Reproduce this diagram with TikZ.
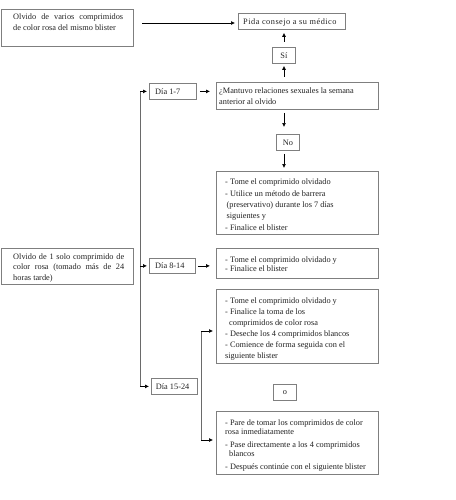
\documentclass[tikz,border=0pt]{standalone}
\usepackage{fontspec}
\setmainfont{Liberation Serif}
\usetikzlibrary{arrows.meta,calc}
\definecolor{bordc}{HTML}{7F7F7F}
\definecolor{txtc}{HTML}{222222}
\definecolor{linec}{HTML}{6A6A6A}
\begin{document}
\begin{tikzpicture}[x=1pt,y=-1pt,
  box/.style={draw=bordc, line width=0.8pt, inner sep=0pt, anchor=north west},
  txt/.style={inner sep=0pt, anchor=base west, text=txtc, font=\fontsize{8.3}{11}\selectfont},
  ctxt/.style={inner sep=0pt, anchor=center, text=txtc, font=\fontsize{8.3}{11}\selectfont},
  arr/.style={draw=black, line width=0.7pt, -{Latex[length=4pt,width=4pt]}},
  vline/.style={draw=linec, line width=0.8pt}]
\useasboundingbox[fill=white] (0,0) rectangle (455,500);
% boxes
\node[box, minimum width=132pt, minimum height=37pt] (b1) at (1,9) {};
\node[box, minimum width=107pt, minimum height=16pt] (pida) at (238,13) {};
\node[box, minimum width=23pt, minimum height=16pt] (si) at (272,47) {};
\node[box, minimum width=162pt, minimum height=27pt] (mant) at (216,82) {};
\node[box, minimum width=23pt, minimum height=16pt] (no) at (276,134) {};
\node[box, minimum width=162pt, minimum height=63pt] (r1) at (216,171) {};
\node[box, minimum width=162pt, minimum height=30pt] (r2) at (216,248) {};
\node[box, minimum width=162pt, minimum height=74pt] (r3) at (216,289) {};
\node[box, minimum width=23pt, minimum height=16pt] (o) at (273,384) {};
\node[box, minimum width=162pt, minimum height=63pt] (r4) at (216,411) {};
\node[box, minimum width=132pt, minimum height=36pt] (b2) at (1,248) {};
\node[box, minimum width=47pt, minimum height=16pt] (d1) at (149,83) {};
\node[box, minimum width=46pt, minimum height=15pt] (d2) at (149,258) {};
\node[box, minimum width=46pt, minimum height=16pt] (d3) at (151,378) {};
% texts
\node[txt] (b1t) at (13,20) {\parbox[t]{120pt}{\makebox[110pt][s]{Olvido de varios comprimidos}\\de color rosa del mismo blister}};
\node[txt] (pidat) at (243,24.5) {\addfontfeature{LetterSpace=6}Pida consejo a su médico};
\node[ctxt] (sit) at (si.center) {Sí};
\node[txt] (mantt) at (219,94) {\parbox[t]{160pt}{¿Mantuvo relaciones sexuales la semana\\anterior al olvido}};
\node[ctxt] (not) at (no.center) {No};
\node[txt, font=\fontsize{8.3}{11.4}\selectfont] (r1t) at (225,184.7) {\parbox[t]{150pt}{- Tome el comprimido olvidado\\- Utilice un método de barrera\\\hspace*{1.5pt}(preservativo) durante los 7 días\\\hspace*{1.5pt}siguientes y\\- Finalice el blister}};
\node[txt, font=\fontsize{8.3}{9}\selectfont] (r2t) at (225,262.3) {\parbox[t]{150pt}{- Tome el comprimido olvidado y\\- Finalice el blister}};
\node[txt] (r3t) at (225,303.7) {\parbox[t]{150pt}{- Tome el comprimido olvidado y\\- Finalice la toma de los\\\hspace*{4pt}comprimidos de color rosa\\- Deseche los 4 comprimidos blancos\\- Comience de forma seguida con el\\siguiente blister}};
\node[ctxt] (ot) at (o.center) {o};
\node[txt, font=\fontsize{8.3}{9.5}\selectfont] (r4t) at (225,425.3) {\parbox[t]{152pt}{- Pare de tomar los comprimidos de color\\rosa inmediatamente\\[3pt]- Pase directamente a los 4 comprimidos\\\hspace*{4pt}blancos\\[3pt]- Después continúe con el siguiente blister}};
\node[txt, font=\fontsize{8.3}{10.5}\selectfont] (b2t) at (13,259) {\parbox[t]{120pt}{\makebox[111pt][s]{Olvido de 1 solo comprimido de}\\\makebox[111pt][s]{color rosa (tomado más de 24}\\horas tarde)}};
\node[txt] (d1t) at (155,94.5) {Día 1-7};
\node[txt] (d2t) at (155,268) {Día 8-14};
\node[txt] (d3t) at (155.7,389.5) {Día 15-24};
% helper coordinates
\coordinate (cx) at (284,0);
\coordinate (tx) at (140,0);
\coordinate (a1) at (142,23);
\coordinate (up) at (201,331);
\coordinate (dn) at (201,440);
% connectors
\draw[arr, shorten >=3pt] (a1) -- (a1 -| pida.west);
\draw[arr, shorten <=5pt, shorten >=3pt] (si.north -| cx) -- (pida.south -| cx);
\draw[arr, shorten <=5pt, shorten >=2pt] (mant.north -| cx) -- (si.south -| cx);
\draw[arr, shorten <=3pt, shorten >=7pt] (mant.south -| cx) -- (no.north -| cx);
\draw[arr, shorten <=3pt, shorten >=3pt] (no.south -| cx) -- (r1.north -| cx);
\draw[vline] (d1.west -| tx) -- (d3.west -| tx);
\draw[arr, shorten >=2pt] (d1.west -| tx) -- (d1.west);
\draw[arr, shorten >=2pt] (d2.west -| tx) -- (d2.west);
\draw[arr, shorten >=2pt] (d3.west -| tx) -- (d3.west);
\draw[arr, shorten <=3pt, shorten >=6pt] (d1.east) -- (d1.east -| mant.west);
\draw[arr, shorten <=2pt, shorten >=6pt] (d2.east) -- (d2.east -| r2.west);
\draw[vline] (up) -- (dn);
\draw[arr, shorten >=3pt] (up) -- (up -| r3.west);
\draw[arr, shorten >=3pt] (dn) -- (dn -| r4.west);
\end{tikzpicture}
\end{document}
